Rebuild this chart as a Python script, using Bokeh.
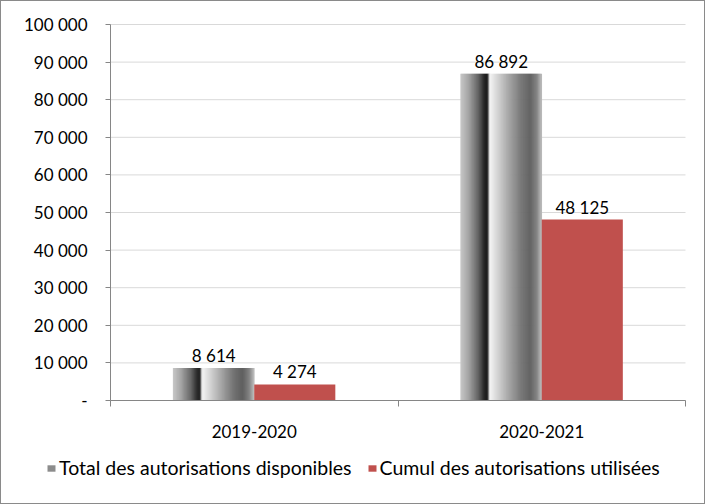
from bokeh.plotting import figure
from bokeh.models import (ColumnDataSource, Range1d, FixedTicker, Legend, LegendItem,
                          LabelSet)
from bokeh.core.properties import value
from bokeh.layouts import column
from bokeh.embed import file_html
from bokeh.resources import INLINE

categories = ["2019-2020", "2020-2021"]
total_disponibles = [8614, 86892]
cumul_utilisees = [4274, 48125]
series_names = ["Total des autorisations disponibles", "Cumul des autorisations utilisées"]
y_ticks = list(range(0, 100001, 10000))

FONT = "Lato"
RED = "#C0504D"
AXIS = "#868686"
W, H = 703, 502

def fmt(v):
    return "-" if v == 0 else f"{v:,}".replace(",", " ")

# layout (pixels inside the figure): plot area left/right/top/bottom
PL, PR, PT, PB = 109, 684, 23, 399
n_cat = len(categories)
y_max = y_ticks[-1]
xpx = (PR - PL) / n_cat
ypx = (PB - PT) / y_max
x_range = Range1d(-PL / xpx, n_cat + (W - PR) / xpx)
y_range = Range1d(-(H - PB) / ypx, y_max + PT / ypx)

p = figure(width=W, height=H, output_backend="svg", toolbar_location=None,
           x_range=x_range, y_range=y_range, min_border=0)
p.outline_line_color = None
p.xgrid.visible = False
p.ygrid.visible = False

# horizontal gridlines limited to the plot area
p.segment(x0=0, x1=n_cat, y0=y_ticks, y1=y_ticks, line_color="#D9D9D9", line_width=1)

cat_x = [i + 0.5 for i in range(n_cat)]
bw = 0.282

# gradient approximation for the first series (styling)
stops = [(0.0, 200), (0.1, 165), (0.22, 100), (0.3, 35), (0.33, 25), (0.345, 110),
         (0.36, 245), (0.45, 215), (0.6, 165), (0.75, 115), (0.86, 95), (0.94, 130), (1.0, 190)]
def shade(t):
    for (t0, c0), (t1, c1) in zip(stops[:-1], stops[1:]):
        if t0 <= t <= t1:
            c = c0 + (c1 - c0) * (t - t0) / (t1 - t0)
            g = int(round(c))
            return "#%02x%02x%02x" % (g, g, g)
    return "#808080"

N = 80
sw = bw / N
xs, tops, cols = [], [], []
for cx, v in zip(cat_x, total_disponibles):
    left = cx - bw
    for k in range(N):
        t = (k + 0.5) / N
        xs.append(left + sw * (k + 0.5))
        tops.append(v)
        cols.append(shade(t))
grad_src = ColumnDataSource(dict(x=xs, top=tops, color=cols))
p.vbar(x="x", top="top", width=sw * 1.6, source=grad_src, fill_color="color", line_color=None)

red_src = ColumnDataSource(dict(x=[c + bw / 2 for c in cat_x], top=cumul_utilisees,
                                label=[fmt(v) for v in cumul_utilisees]))
p.vbar(x="x", top="top", width=bw, source=red_src, fill_color=RED, line_color=None)

gray_lab_src = ColumnDataSource(dict(x=[c - bw / 2 for c in cat_x], top=total_disponibles,
                                     label=[fmt(v) for v in total_disponibles]))
for src in (gray_lab_src, red_src):
    p.add_layout(LabelSet(x="x", y="top", text="label", source=src, text_align="center",
                          text_baseline="bottom", y_offset=2, text_font=value(FONT),
                          text_font_size="17px", text_color="#000000"))

# axes pinned at the data origin
p.yaxis.fixed_location = 0
p.yaxis.bounds = (0, y_max)
p.yaxis.ticker = FixedTicker(ticks=y_ticks)
p.yaxis.major_label_overrides = {t: fmt(t) for t in y_ticks}
p.yaxis.axis_line_color = AXIS
p.yaxis.major_tick_line_color = AXIS
p.yaxis.major_tick_out = 5
p.yaxis.major_tick_in = 0
p.yaxis.minor_tick_line_color = None
p.yaxis.major_label_standoff = 18
p.yaxis.major_label_text_font = FONT
p.yaxis.major_label_text_font_size = "17px"
p.yaxis.major_label_text_color = "#000000"

p.xaxis.fixed_location = 0
p.xaxis.bounds = (0, n_cat)
p.xaxis.ticker = FixedTicker(ticks=cat_x, minor_ticks=list(range(n_cat + 1)))
p.xaxis.major_label_overrides = {c: n for c, n in zip(cat_x, categories)}
p.xaxis.axis_line_color = AXIS
p.xaxis.major_tick_line_color = None
p.xaxis.minor_tick_line_color = AXIS
p.xaxis.minor_tick_out = 6
p.xaxis.minor_tick_in = 0
p.xaxis.major_label_standoff = 18
p.xaxis.major_label_text_font = FONT
p.xaxis.major_label_text_font_size = "17px"
p.xaxis.major_label_text_color = "#000000"

# legend (proxies have zero height, so they draw nothing in the plot)
proxy_a = p.vbar(x=[cat_x[0]], top=[0], bottom=[0], width=0.01, fill_color="#8c8c8c",
                 line_color=None)
proxy_b = p.vbar(x=[cat_x[0]], top=[0], bottom=[0], width=0.01, fill_color=RED,
                 line_color=None)
legend = Legend(items=[LegendItem(label=series_names[0], renderers=[proxy_a]),
                       LegendItem(label=series_names[1], renderers=[proxy_b])],
                orientation="horizontal", location=(45, 24),
                label_text_font=FONT, label_text_font_size="19.5px", label_text_color="#000000",
                glyph_width=10, glyph_height=8, spacing=15, label_standoff=3,
                border_line_color=None, background_fill_alpha=0, padding=3, margin=0)
p.add_layout(legend, "center")

layout = column(p, styles={"border": "1px solid #8a8a8a"})
open("out.html", "w").write(file_html(layout, INLINE))
